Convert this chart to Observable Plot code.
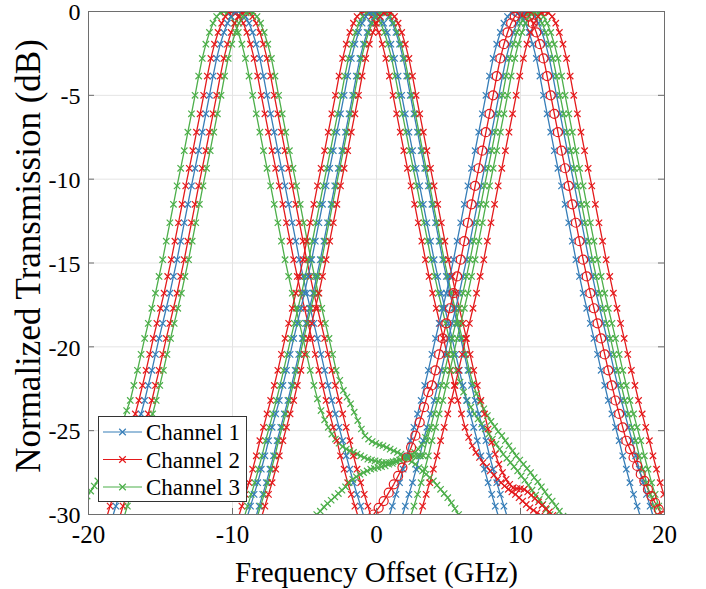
<!DOCTYPE html>
<html><head><meta charset="utf-8">
<script src="https://cdn.jsdelivr.net/npm/d3@7"></script>
<script src="https://cdn.jsdelivr.net/npm/@observablehq/plot@0.6"></script>
<style>
html,body{margin:0;padding:0;background:#fff;}
#chart{position:relative;width:706px;height:589px;}
#legend{position:absolute;left:98px;top:416px;}
</style></head><body><div id="chart"></div>
<script>
// ---- tick labels / titles ----
const xTicks = [-20, -10, 0, 10, 20];
const yTicks = [0, -5, -10, -15, -20, -25, -30];
const xTitle = "Frequency Offset (GHz)";
const yTitle = "Normalized Transmission (dB)";
const channelNames = ["Channel 1", "Channel 2", "Channel 3"];
const channelColors = ["#377eb8", "#e41a1c", "#4daf4a"];

// ---- passband shape: offset from peak (GHz) -> level (dB) ----
const profileOffset = [0,0.25,0.5,0.75,1,1.25,1.5,1.75,2,2.25,2.5,2.75,3,3.25,3.5,3.75,4,4.25,4.5,4.75,5,5.25,5.5,5.75,6,6.25,6.5,6.75,7,7.25,7.5,7.75,8,8.25,8.5,8.75,9];
const profileLevel  = [0,-0.08,-0.3,-0.7,-1.25,-1.95,-2.8,-3.85,-5,-6.1,-7.2,-8.3,-9.35,-10.4,-11.5,-12.6,-13.7,-14.8,-15.8,-16.8,-17.7,-18.6,-19.5,-20.45,-21.4,-22.3,-23.2,-24,-24.8,-25.6,-26.5,-27.3,-28.1,-28.8,-29.5,-30.2,-30.9];

// ---- curves: channel index, peak frequency, marker, tails ----
const curveChannel   = [2, 1, 0, 1, 2,   1, 2, 0, 0, 2, 1,   0, 1, 0, 2, 2, 1];
const curveCenter    = [-10.6, -10.0, -9.6, -9.1, -8.8,   -0.85, -0.45, -0.25, 0.35, 0.45, 0.75,   9.6, 10.1, 10.5, 10.75, 11.1, 11.7];
const curveSymbol    = ["times","times","times","times","times", "times","times","times","times","times","times", "times","circle","times","times","times","times"];
const curveLeftTail  = ["tailG1L",null,null,null,null, null,null,null,null,null,null, null,"tailRcL",null,"tailG5L",null,null];
const curveRightTail = ["tailG1R",null,null,null,"tailG2R", "tailR3R","tailG3R",null,null,"tailG4R","tailR4R", null,"tailRcR",null,null,null,null];

// ---- tails that leave the common shape (x GHz, dB) ----
const tailG1L = [[-20.1,-28.9],[-19.85,-28.6],[-19.6,-28.3],[-19.35,-28.0],[-19.1,-27.6],[-18.85,-27.2],[-18.6,-26.7],[-18.35,-26.2],[-18.1,-25.6],[-17.85,-25.0],[-17.6,-24.4],[-17.35,-23.8]];
const tailG1R = [[-4.1,-23.1],[-3.85,-23.8],[-3.6,-24.35],[-3.35,-24.8],[-3.1,-25.2],[-2.85,-25.5],[-2.6,-25.75],[-2.35,-25.95],[-2.1,-26.1],[-1.85,-26.2],[-1.6,-26.3],[-1.35,-26.4],[-1.1,-26.5],[-0.85,-26.6],[-0.6,-26.7],[-0.35,-26.75],[-0.1,-26.8],[0.15,-26.85],[0.4,-26.9],[0.65,-26.9],[0.9,-26.9],[1.15,-26.85],[1.4,-26.8],[1.65,-26.75],[1.9,-26.65],[2.15,-26.55],[2.4,-26.45],[2.65,-26.3],[2.9,-26.1],[3.15,-25.8],[3.4,-25.4],[3.65,-24.9]];
const tailG2R = [[-2.55,-22.0],[-2.3,-22.6],[-2.05,-23.0],[-1.8,-23.4],[-1.55,-23.9],[-1.3,-24.4],[-1.05,-24.9],[-0.8,-25.3],[-0.55,-25.5],[-0.3,-25.65],[-0.05,-25.75],[0.2,-25.85],[0.45,-25.9],[0.7,-26.0],[0.95,-26.1],[1.2,-26.2],[1.45,-26.3],[1.7,-26.4],[1.95,-26.55],[2.2,-26.7],[2.45,-26.85],[2.7,-27.0],[2.95,-27.2],[3.2,-27.4],[3.45,-27.6],[3.7,-27.8],[3.95,-28.0],[4.2,-28.25],[4.45,-28.5],[4.7,-28.75],[4.95,-29.0],[5.2,-29.3],[5.45,-29.65],[5.7,-30.0],[5.95,-30.4]];
const tailR3R = [[6.4,-25.4],[6.65,-25.9],[6.9,-26.3],[7.15,-26.6],[7.4,-26.9],[7.65,-27.15],[7.9,-27.4],[8.15,-27.65],[8.4,-27.9],[8.65,-28.1],[8.9,-28.3],[9.15,-28.5],[9.4,-28.65],[9.65,-28.8],[9.9,-29.0],[10.15,-29.2],[10.4,-29.4],[10.65,-29.6],[10.9,-29.75],[11.15,-29.9],[11.4,-30.05]];
const tailG3R = [[5.8,-22.1],[6.05,-22.7],[6.3,-23.2],[6.55,-23.6],[6.8,-24.0],[7.05,-24.3],[7.3,-24.6],[7.55,-24.9],[7.8,-25.2],[8.05,-25.5],[8.3,-25.8],[8.55,-26.1],[8.8,-26.4],[9.05,-26.65],[9.3,-26.9],[9.55,-27.15],[9.8,-27.4],[10.05,-27.7],[10.3,-27.95],[10.55,-28.25],[10.8,-28.55],[11.05,-28.85],[11.3,-29.1],[11.55,-29.4],[11.8,-29.7],[12.05,-30.0],[12.3,-30.3]];
const tailG4R = [[6.7,-22.2],[6.95,-22.8],[7.2,-23.3],[7.45,-23.7],[7.7,-24.1],[7.95,-24.45],[8.2,-24.75],[8.45,-25.05],[8.7,-25.3],[8.95,-25.6],[9.2,-25.9],[9.45,-26.2],[9.7,-26.5],[9.95,-26.75],[10.2,-27.0],[10.45,-27.25],[10.7,-27.5],[10.95,-27.8],[11.2,-28.05],[11.45,-28.35],[11.7,-28.65],[11.95,-28.95],[12.2,-29.2],[12.45,-29.5],[12.7,-29.8],[12.95,-30.1]];
const tailR4R = [[7.75,-24.9],[8.0,-25.7],[8.25,-26.4],[8.5,-27.0],[8.75,-27.5],[9.0,-27.9],[9.25,-28.2],[9.5,-28.4],[9.75,-28.45],[10.0,-28.45],[10.25,-28.5],[10.5,-28.65],[10.75,-28.85],[11.0,-29.05],[11.25,-29.25],[11.5,-29.45],[11.75,-29.65],[12.0,-29.85],[12.25,-30.05],[12.5,-30.3]];
const tailRcL = [[-0.2,-30.0],[0.15,-29.6],[0.5,-29.2],[0.85,-28.7],[1.2,-28.2],[1.5,-27.7],[1.8,-27.2],[2.1,-26.6],[2.4,-26.0],[2.7,-25.3],[3.0,-24.5],[3.3,-23.6],[3.6,-22.7]];
const tailRcR = [[17.6,-26.1],[17.85,-26.6],[18.1,-27.1],[18.35,-27.6],[18.6,-28.0],[18.85,-28.5],[19.1,-28.9],[19.35,-29.3],[19.6,-29.7],[19.85,-30.1]];
const tailG5L = [[-4.4,-30.3],[-4.15,-30.0],[-3.9,-29.8],[-3.65,-29.55],[-3.4,-29.35],[-3.15,-29.15],[-2.9,-28.95],[-2.65,-28.75],[-2.4,-28.55],[-2.15,-28.35],[-1.9,-28.1],[-1.65,-27.9],[-1.4,-27.75],[-1.15,-27.6],[-0.9,-27.5],[-0.65,-27.4],[-0.4,-27.3],[-0.15,-27.25],[0.1,-27.2],[0.35,-27.15],[0.6,-27.1],[0.85,-27.0],[1.1,-26.95],[1.35,-26.85],[1.6,-26.75],[1.85,-26.65],[2.1,-26.6],[2.35,-26.55],[2.6,-26.5],[2.85,-26.5],[3.05,-26.5]];

const tailTable = {tailG1L, tailG1R, tailG2R, tailR3R, tailG3R, tailG4R, tailR4R, tailRcL, tailRcR, tailG5L};

function curvePoints(i) {
  const c = curveCenter[i];
  const lt = curveLeftTail[i] ? tailTable[curveLeftTail[i]] : [];
  const rt = curveRightTail[i] ? tailTable[curveRightTail[i]] : [];
  const leftLimit = lt.length ? lt[lt.length - 1][0] + 0.1 : -Infinity;
  const rightLimit = rt.length ? rt[0][0] - 0.1 : Infinity;
  const pts = lt.map(([x, y]) => ({x, y}));
  for (let k = profileOffset.length - 1; k >= 1; k--) {
    const x = c - profileOffset[k];
    if (x > leftLimit) pts.push({x, y: profileLevel[k]});
  }
  pts.push({x: c, y: profileLevel[0]});
  for (let k = 1; k < profileOffset.length; k++) {
    const x = c + profileOffset[k];
    if (x < rightLimit) pts.push({x, y: profileLevel[k]});
  }
  rt.forEach(([x, y]) => pts.push({x, y}));
  return pts.map(p => ({...p, curve: i, channel: channelNames[curveChannel[i]], symbol: curveSymbol[i]}));
}
const rows = curveCenter.flatMap((_, i) => curvePoints(i));

const W = 706, H = 589, ML = 88, MR = 42, MT = 11, MB = 75;
const FW = W - ML - MR, FH = H - MT - MB;
const axisColor = "#6e6e6e";

const chart = Plot.plot({
  width: W, height: H,
  marginLeft: ML, marginRight: MR, marginTop: MT, marginBottom: MB,
  x: {domain: [-20, 20]},
  y: {domain: [-30, 0]},
  color: {domain: channelNames, range: channelColors},
  style: {fontFamily: "'Liberation Serif', 'Times New Roman', serif", fontSize: "24px", background: "#fff", color: "#000"},
  marks: [
    Plot.gridX(xTicks, {stroke: "#e4e4e4", strokeOpacity: 1, strokeWidth: 1}),
    Plot.gridY(yTicks, {stroke: "#e4e4e4", strokeOpacity: 1, strokeWidth: 1}),
    Plot.line(rows, {x: "x", y: "y", z: "curve", stroke: "channel", strokeWidth: 1.3, clip: true}),
    Plot.dot(rows.filter(r => r.symbol === "times"), {x: "x", y: "y", stroke: "channel", symbol: "times", r: 3, strokeWidth: 1.2, clip: true}),
    Plot.dot(rows.filter(r => r.symbol === "circle"), {x: "x", y: "y", stroke: "channel", symbol: "circle", r: 4.5, fill: "none", strokeWidth: 1.2, clip: true}),
    Plot.tickY(yTicks, {y: d => d, insetRight: FW - 6, stroke: axisColor}),
    Plot.tickY(yTicks, {y: d => d, insetLeft: FW - 6, stroke: axisColor}),
    Plot.tickX(xTicks, {x: d => d, insetTop: FH - 6, stroke: axisColor}),
    Plot.tickX(xTicks, {x: d => d, insetBottom: FH - 6, stroke: axisColor}),
    Plot.frame({stroke: axisColor, strokeWidth: 1}),
    Plot.axisX(xTicks, {tickSize: 0, tickPadding: 11, tickFormat: d => String(d), fontSize: 25, label: null}),
    Plot.axisY(yTicks, {tickSize: 0, tickPadding: 8, tickFormat: d => String(d), fontSize: 24, label: null, dy: 1}),
    Plot.text([xTitle], {frameAnchor: "bottom", dy: 58, text: d => d, fontSize: 29, textAnchor: "middle", lineAnchor: "middle"}),
    Plot.text([yTitle], {frameAnchor: "left", dx: -60, dy: -7, rotate: -90, text: d => d, fontSize: 35, textAnchor: "middle", lineAnchor: "middle"})
  ]
});
const host = document.getElementById("chart");
host.appendChild(chart);

// legend inside the axes, lower left
const legDiv = document.createElement("div");
legDiv.id = "legend";
host.appendChild(legDiv);
const lw = 149, lh = 86;
const leg = d3.select(legDiv).append("svg").attr("width", lw).attr("height", lh)
  .style("font-family", "'Liberation Serif', 'Times New Roman', serif");
leg.append("rect").attr("x", 0.5).attr("y", 0.5).attr("width", lw - 1).attr("height", lh - 1)
  .attr("fill", "#fff").attr("stroke", "#333").attr("stroke-width", 1);
const times = d3.symbol(d3.symbolTimes, 30);
channelNames.forEach((name, i) => {
  const y = 16 + i * 27.5;
  const g = leg.append("g");
  g.append("line").attr("x1", 5).attr("x2", 44).attr("y1", y).attr("y2", y)
    .attr("stroke", channelColors[i]).attr("stroke-width", 1.2);
  g.append("path").attr("d", times()).attr("transform", `translate(24.5,${y})`)
    .attr("stroke", channelColors[i]).attr("fill", "none").attr("stroke-width", 1.2);
  g.append("text").attr("x", 48).attr("y", y).attr("dy", "0.35em").attr("font-size", 23).text(name);
});
</script></body></html>
